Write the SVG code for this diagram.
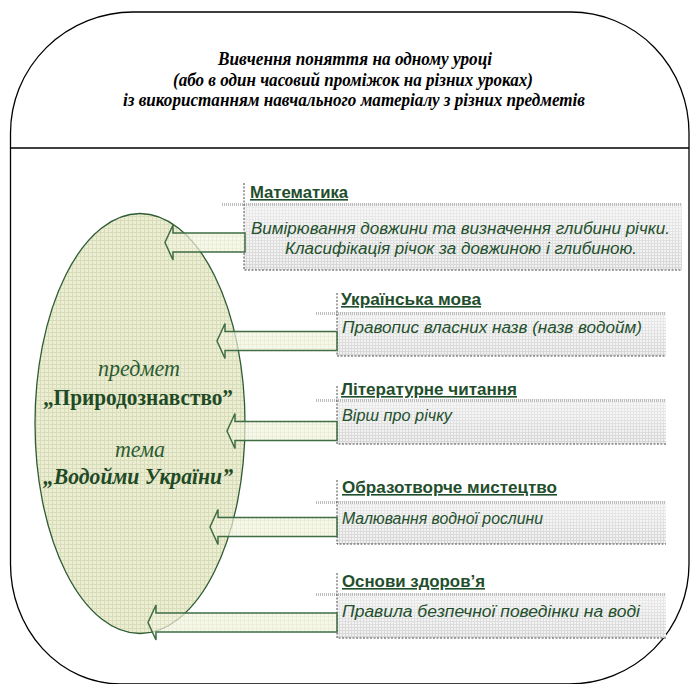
<svg xmlns="http://www.w3.org/2000/svg" width="690" height="684" viewBox="0 0 690 684">
<defs>
<pattern id="ellGrid" width="4" height="4" patternUnits="userSpaceOnUse">
<rect width="4" height="4" fill="#eceed3"/>
<path d="M0 0.5H4M0.5 0V4" stroke="#d9dcb8" stroke-width="1"/>
</pattern>
<pattern id="boxGrid" width="3" height="3" patternUnits="userSpaceOnUse">
<rect width="3" height="3" fill="#f0f0f0"/>
<path d="M0 0.5H3M0.5 0V3" stroke="#d6d6d6" stroke-width="1"/>
</pattern>
<pattern id="arrGrid" width="4" height="4" patternUnits="userSpaceOnUse">
<rect width="4" height="4" fill="#f4f5e4"/>
<path d="M0 0.5H4M0.5 0V4" stroke="#e4e7c9" stroke-width="1"/>
</pattern>
<linearGradient id="boxShade" x1="0" y1="0" x2="0" y2="1">
<stop offset="0" stop-color="#ffffff" stop-opacity="0.55"/>
<stop offset="1" stop-color="#ffffff" stop-opacity="0"/>
</linearGradient>
</defs>
<style>
.frame{fill:#fff;stroke:#000;stroke-width:1.3}
.title{font-family:"Liberation Serif","Times New Roman",serif;font-style:italic;font-weight:bold;font-size:18px;fill:#000;text-anchor:middle}
.ell{fill:url(#ellGrid);stroke:#2e5c34;stroke-width:1.3}
.ital{font-family:"Liberation Serif","Times New Roman",serif;font-style:italic;font-size:24px;fill:#2b5a31;text-anchor:middle}
.bold{font-family:"Liberation Serif","Times New Roman",serif;font-weight:bold;font-size:23px;fill:#1f4a26;text-anchor:middle}
.boldital{font-family:"Liberation Serif","Times New Roman",serif;font-weight:bold;font-style:italic;font-size:23px;fill:#1f4a26;text-anchor:middle}
.box{fill:url(#boxGrid)}
.shade{fill:url(#boxShade)}
.band{stroke:#bdbdbd;stroke-width:3;stroke-dasharray:1 1}
.dash{stroke:#4a4a4a;stroke-width:1;stroke-dasharray:2 1.5;fill:none}
.head{font-family:"Liberation Sans",Arial,sans-serif;font-weight:bold;font-size:16px;fill:#1f4e2c;text-decoration:underline}
.body{font-family:"Liberation Sans",Arial,sans-serif;font-style:italic;font-size:16px;fill:#24502d}
.arrow{fill:url(#arrGrid);fill-opacity:0.72;stroke:#3f6e45;stroke-width:1.5;stroke-linejoin:miter}
</style>
<g id="frame">
<path class="frame" d="M10.5 133 A123 121 0 0 1 133 12 L571 12 A118 121 0 0 1 689 133 L689 564 A120 120 0 0 1 569 684 L120 684 A110 120 0 0 1 10.5 564 Z"/>
<line x1="10.5" y1="148" x2="689" y2="148" stroke="#000" stroke-width="1.5"/>
</g>
<g id="header">
<text class="title" x="355" y="65" textLength="274" lengthAdjust="spacingAndGlyphs">Вивчення поняття на одному уроці</text>
<text class="title" x="353" y="86" textLength="360" lengthAdjust="spacingAndGlyphs">(або в один часовий проміжок на різних уроках)</text>
<text class="title" x="354" y="106" textLength="462" lengthAdjust="spacingAndGlyphs">із використанням навчального матеріалу з різних предметів</text>
</g>
<g id="subject">
<ellipse class="ell" cx="140" cy="423.5" rx="105" ry="210"/>
<text class="ital" x="139" y="376" textLength="82" lengthAdjust="spacingAndGlyphs">предмет</text>
<text class="bold" x="138" y="405" textLength="190" lengthAdjust="spacingAndGlyphs">„Природознавство”</text>
<text class="ital" x="140" y="457" textLength="50" lengthAdjust="spacingAndGlyphs">тема</text>
<text class="boldital" x="138" y="484" textLength="190" lengthAdjust="spacingAndGlyphs">„Водойми України”</text>
</g>
<g id="math">
<rect class="box" x="244" y="203" width="438" height="67"/>
<rect class="shade" x="244" y="203" width="438" height="67"/>
<line class="band" x1="222" y1="204.5" x2="682" y2="204.5"/>
<path class="dash" d="M244 183V270H682"/>
<text class="head" x="250" y="198" textLength="98" lengthAdjust="spacingAndGlyphs">Математика</text>
<text class="body" x="251" y="234" textLength="419" lengthAdjust="spacingAndGlyphs">Вимірювання довжини та визначення глибини річки.</text>
<text class="body" x="285" y="254" textLength="352" lengthAdjust="spacingAndGlyphs">Класифікація річок за довжиною і глибиною.</text>
</g>
<g id="ukr">
<rect class="box" x="337" y="312" width="329" height="44"/>
<rect class="shade" x="337" y="312" width="329" height="44"/>
<line class="band" x1="316" y1="313.5" x2="666" y2="313.5"/>
<path class="dash" d="M337 293V356H666"/>
<text class="head" x="341" y="305" textLength="140" lengthAdjust="spacingAndGlyphs">Українська мова</text>
<text class="body" x="342" y="333" textLength="300" lengthAdjust="spacingAndGlyphs">Правопис власних назв (назв водойм)</text>
</g>
<g id="lit">
<rect class="box" x="337" y="399" width="329" height="45"/>
<rect class="shade" x="337" y="399" width="329" height="45"/>
<line class="band" x1="316" y1="400.5" x2="666" y2="400.5"/>
<path class="dash" d="M337 386V444H666"/>
<text class="head" x="341" y="395" textLength="176" lengthAdjust="spacingAndGlyphs">Літературне читання</text>
<text class="body" x="342" y="421" textLength="110" lengthAdjust="spacingAndGlyphs">Вірш про річку</text>
</g>
<g id="art">
<rect class="box" x="337" y="501" width="329" height="43"/>
<rect class="shade" x="337" y="501" width="329" height="43"/>
<line class="band" x1="316" y1="502.5" x2="666" y2="502.5"/>
<path class="dash" d="M337 480V544H666"/>
<text class="head" x="342" y="493" textLength="215" lengthAdjust="spacingAndGlyphs">Образотворче мистецтво</text>
<text class="body" x="342" y="524" textLength="201" lengthAdjust="spacingAndGlyphs">Малювання водної рослини</text>
</g>
<g id="health">
<rect class="box" x="337" y="593" width="329" height="45"/>
<rect class="shade" x="337" y="593" width="329" height="45"/>
<line class="band" x1="316" y1="594.5" x2="666" y2="594.5"/>
<path class="dash" d="M337 573V638H666"/>
<text class="head" x="342" y="587" textLength="143" lengthAdjust="spacingAndGlyphs">Основи здоров’я</text>
<text class="body" x="342" y="617" textLength="298" lengthAdjust="spacingAndGlyphs">Правила безпечної поведінки на воді</text>
</g>
<g id="connectors">
<polygon class="arrow" points="245,233 173,233 173,225 165,242.5 173,260 173,252 245,252"/>
<polygon class="arrow" points="337,331.5 225,331.5 225,323.5 217,341 225,358.5 225,350.5 337,350.5"/>
<polygon class="arrow" points="337,421.5 235,421.5 235,413.5 227,431 235,448.5 235,440.5 337,440.5"/>
<polygon class="arrow" points="337,517.5 218,517.5 218,509.5 210,527 218,544.5 218,536.5 337,536.5"/>
<polygon class="arrow" points="337,613 156,613 156,605 148,622.5 156,640 156,632 337,632"/>
</g>
</svg>
